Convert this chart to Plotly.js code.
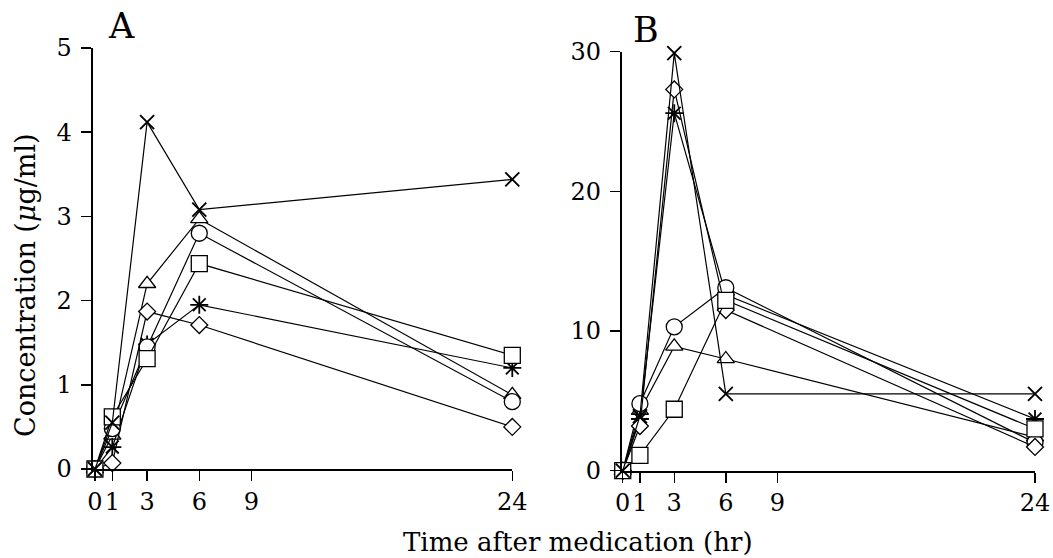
<!DOCTYPE html>
<html>
<head>
<meta charset="utf-8">
<script src="https://cdn.plot.ly/plotly-3.0.1.min.js"></script>
<style>
  html, body { margin: 0; padding: 0; background: #fff; }
  #chart { width: 1053px; height: 558px; }
</style>
</head>
<body>
<div id="chart"></div>
<script>
// Sampling times (hr)
const hours = [0, 1, 3, 6, 24];
const xTickVals = [0, 1, 3, 6, 9, 24];
const xTickText = ['0', '1', '3', '6', '9', '24'];

// Panel A concentrations (µg/ml)
const aCross    = [0, 0.55, 4.12, 3.08, 3.44];
const aTriangle = [0, 0.40, 2.20, 2.97, 0.88];
const aCircle   = [0, 0.48, 1.45, 2.80, 0.80];
const aAsterisk = [0, 0.26, 1.48, 1.95, 1.20];
const aDiamond  = [0, 0.07, 1.87, 1.71, 0.50];
const aSquare   = [0, 0.62, 1.31, 2.44, 1.35];
const aTickVals = [0, 1, 2, 3, 4, 5];

// Panel B concentrations (µg/ml)
const bCross    = [0, 3.9, 29.9, 5.5, 5.5];
const bTriangle = [0, 4.3, 8.9, 8.0, 2.4];
const bCircle   = [0, 4.8, 10.3, 13.1, 2.0];
const bAsterisk = [0, 3.7, 25.6, 12.6, 3.7];
const bDiamond  = [0, 3.2, 27.3, 11.5, 1.7];
const bSquare   = [0, 1.1, 4.4, 12.2, 3.0];
const bTickVals = [0, 10, 20, 30];

const FONT = 'DejaVu Serif, Liberation Serif, serif';

const styles = {
  triangle: { symbol: 'triangle-up', size: 15, color: '#fff', line: { color: '#000', width: 1.3 } },
  circle:   { symbol: 'circle', size: 16, color: '#fff', line: { color: '#000', width: 1.3 } },
  asterisk: { symbol: 'asterisk', size: 15, color: '#000', line: { color: '#000', width: 1.8 } },
  diamond:  { symbol: 'diamond', size: 13, color: '#fff', line: { color: '#000', width: 1.3 } },
  square:   { symbol: 'square', size: 16, color: '#fff', line: { color: '#000', width: 1.3 } },
  cross:    { symbol: 'x-thin', size: 14, color: '#000', line: { color: '#000', width: 1.9 } }
};

function series(y, kind, xa, ya) {
  return {
    x: hours, y: y, type: 'scatter', mode: 'lines+markers',
    xaxis: xa, yaxis: ya,
    line: { color: '#000', width: 1.2 },
    marker: styles[kind],
    cliponaxis: false,
    showlegend: false,
    hoverinfo: 'skip'
  };
}

const data = [
  series(aTriangle, 'triangle', 'x', 'y'),
  series(aAsterisk, 'asterisk', 'x', 'y'),
  series(aCircle, 'circle', 'x', 'y'),
  series(aDiamond, 'diamond', 'x', 'y'),
  series(aSquare, 'square', 'x', 'y'),
  series(aCross, 'cross', 'x', 'y'),
  series(bTriangle, 'triangle', 'x2', 'y2'),
  series(bAsterisk, 'asterisk', 'x2', 'y2'),
  series(bCircle, 'circle', 'x2', 'y2'),
  series(bDiamond, 'diamond', 'x2', 'y2'),
  series(bSquare, 'square', 'x2', 'y2'),
  series(bCross, 'cross', 'x2', 'y2')
];

const axisCommon = {
  showline: true, linecolor: '#000', linewidth: 1.8,
  ticks: 'outside', ticklen: 10, tickwidth: 1.5, tickcolor: '#000',
  showgrid: false, zeroline: false,
  tickfont: { family: FONT, size: 24, color: '#000' },
  tickangle: 0, fixedrange: true
};

const W = 1053, H = 558;
const px = v => v / W;
const py = v => (H - v) / H;

const layout = {
  width: W, height: H,
  margin: { l: 0, r: 0, t: 0, b: 0 },
  paper_bgcolor: '#fff', plot_bgcolor: '#fff',
  font: { family: FONT, color: '#000' },
  xaxis: Object.assign({}, axisCommon, {
    domain: [px(92.5), px(512.3)], range: [-0.14, 24], anchor: 'y',
    tickmode: 'array', tickvals: xTickVals, ticktext: xTickText
  }),
  yaxis: Object.assign({}, axisCommon, {
    domain: [py(469), py(48)], range: [0, 5], anchor: 'x',
    tickmode: 'array', tickvals: aTickVals, ticklabelstandoff: 4
  }),
  xaxis2: Object.assign({}, axisCommon, {
    domain: [px(621.7), px(1035)], range: [-0.06, 24], anchor: 'y2',
    tickmode: 'array', tickvals: xTickVals, ticktext: xTickText
  }),
  yaxis2: Object.assign({}, axisCommon, {
    domain: [py(470.7), py(51.7)], range: [0, 30], anchor: 'x2',
    tickmode: 'array', tickvals: bTickVals, ticklabelstandoff: 4
  }),
  annotations: [
    { text: 'A', xref: 'paper', yref: 'paper', x: px(121), y: py(26),
      xanchor: 'center', yanchor: 'middle', showarrow: false,
      font: { family: FONT, size: 35, color: '#000' } },
    { text: 'B', xref: 'paper', yref: 'paper', x: px(646), y: py(30),
      xanchor: 'center', yanchor: 'middle', showarrow: false,
      font: { family: FONT, size: 35, color: '#000' } },
    { text: 'Time after medication (hr)', xref: 'paper', yref: 'paper',
      x: px(578), y: py(542), xanchor: 'center', yanchor: 'middle', showarrow: false,
      font: { family: FONT, size: 26, color: '#000' } },
    { text: 'Concentration (<i>\u03bc</i>g/ml)', xref: 'paper', yref: 'paper',
      x: px(25), y: py(285), xanchor: 'center', yanchor: 'middle', showarrow: false,
      textangle: -90,
      font: { family: FONT, size: 27, color: '#000' } }
  ]
};

Plotly.newPlot('chart', data, layout, { staticPlot: true, displayModeBar: false });
</script>
</body>
</html>
